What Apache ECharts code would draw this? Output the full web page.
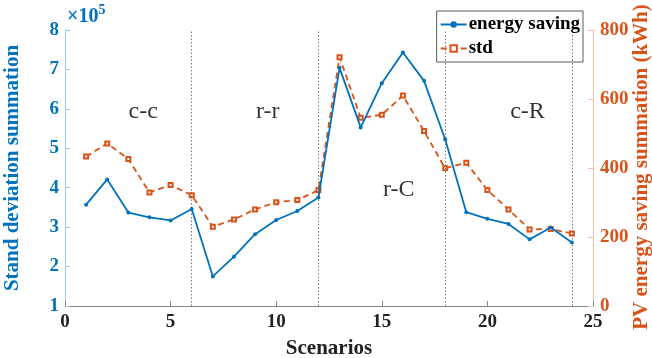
<!DOCTYPE html>
<html><head><meta charset="utf-8">
<script src="https://cdn.jsdelivr.net/npm/echarts@6/dist/echarts.min.js"></script>
<style>html,body{margin:0;padding:0;background:#fff}#c{width:652px;height:358px}</style>
</head><body><div id="c"></div>
<script>
const scenarios = [1,2,3,4,5,6,7,8,9,10,11,12,13,14,15,16,17,18,19,20,21,22,23,24];
const energySaving = [3.57,4.21,3.37,3.25,3.17,3.46,1.75,2.25,2.82,3.18,3.41,3.75,7.04,5.53,6.65,7.43,6.71,5.23,3.38,3.21,3.08,2.69,2.99,2.61];
const stdVals = [433,471,426,329,351,321,230,251,280,301,307,336,721,546,554,610,507,399,415,336,280,222,223,210];
const dividers = [6,12,18,24];
const regionLabels = [
  {name:'c-c', x:3.7, y:5.92},
  {name:'r-r', x:9.6, y:5.92},
  {name:'r-C', x:15.8, y:3.94},
  {name:'c-R', x:21.9, y:5.92}
];
const BLUE = '#0072BD', ORANGE = '#D95319';
const FONT = 'Liberation Serif';
const chart = echarts.init(document.getElementById('c'));
chart.setOption({
  animation:false,
  textStyle:{fontFamily:FONT},
  grid:{left:65,right:59,top:30,bottom:52,containLabel:false,outerBoundsMode:'none'},
  legend:{
    orient:'vertical', right:69, top:11,
    backgroundColor:'#fff', borderColor:'#333', borderWidth:0.8, borderRadius:0,
    padding:[4,3,4,3], itemGap:5, itemWidth:26, itemHeight:8,
    textStyle:{fontFamily:FONT, fontWeight:'bold', fontSize:19, color:'#000', padding:[0,0,0,-3]},
    data:['energy saving','std']
  },
  xAxis:{
    type:'value', min:0, max:25, interval:5,
    name:'Scenarios', nameLocation:'middle', nameGap:32,
    nameTextStyle:{fontFamily:FONT, fontWeight:'bold', fontSize:21, color:'#222'},
    axisLine:{lineStyle:{color:'#888'}},
    axisTick:{inside:true, length:5, lineStyle:{color:'#888'}},
    axisLabel:{fontFamily:FONT, fontWeight:'bold', fontSize:19, color:'#222', margin:7},
    splitLine:{show:false}
  },
  yAxis:[
    {type:'value', min:1, max:8, interval:1, position:'left',
     name:'Stand deviation summation', nameLocation:'middle', nameGap:42,
     nameTextStyle:{fontFamily:FONT, fontWeight:'bold', fontSize:21, color:BLUE},
     axisLine:{show:true, lineStyle:{color:'#9cc9ea'}},
     axisTick:{show:true, inside:true, length:5, lineStyle:{color:'#9cc9ea'}},
     axisLabel:{fontFamily:FONT, fontWeight:'bold', fontSize:19, color:BLUE, margin:6},
     splitLine:{show:false}},
    {type:'value', min:0, max:800, interval:200, position:'right',
     axisLine:{show:true, lineStyle:{color:'#f3bfa6'}},
     axisTick:{show:true, inside:true, length:5, lineStyle:{color:'#f3bfa6'}},
     axisLabel:{fontFamily:FONT, fontWeight:'bold', fontSize:19, color:ORANGE, margin:7},
     splitLine:{show:false}}
  ],
  graphic:[{
    type:'text', left:67, top:3,
    style:{text:'{a|×10}{b|5}', rich:{
      a:{fontFamily:FONT, fontWeight:'bold', fontSize:20, fill:BLUE, verticalAlign:'bottom', lineHeight:24},
      b:{fontFamily:FONT, fontWeight:'bold', fontSize:14, fill:BLUE, verticalAlign:'top', lineHeight:24}
    }}
  },{
    type:'text', x:642, y:167, rotation:Math.PI/2,
    style:{text:'PV energy saving summation (kWh)', fontFamily:FONT, fontWeight:'bold',
      fontSize:21, fill:ORANGE, align:'center', verticalAlign:'middle'}
  }],
  series:[
    {name:'energy saving', type:'line', yAxisIndex:0,
     data:scenarios.map((s,i)=>[s,energySaving[i]]),
     symbol:'circle', symbolSize:4, showSymbol:true,
     lineStyle:{color:BLUE, width:1.8}, itemStyle:{color:BLUE},
     markLine:{silent:true, symbol:'none', label:{show:false},
       lineStyle:{color:'#555', type:[1.5,2], width:0.8},
       data:dividers.map(d=>({xAxis:d}))},
     z:3},
    {name:'std', type:'line', yAxisIndex:1,
     data:scenarios.map((s,i)=>[s,stdVals[i]]),
     symbol:'emptyRect', symbolSize:4, showSymbol:true,
     lineStyle:{color:ORANGE, width:1.8, type:[6,4]},
     itemStyle:{color:ORANGE, borderWidth:1},
     z:2},
    {name:'labels', type:'scatter', yAxisIndex:0,
     data:regionLabels.map(r=>({value:[r.x,r.y], name:r.name})),
     symbolSize:0, silent:true,
     label:{show:true, position:'inside', formatter:p=>p.name,
       fontFamily:FONT, fontSize:24, color:'#000'}}
  ]
});
</script></body></html>
